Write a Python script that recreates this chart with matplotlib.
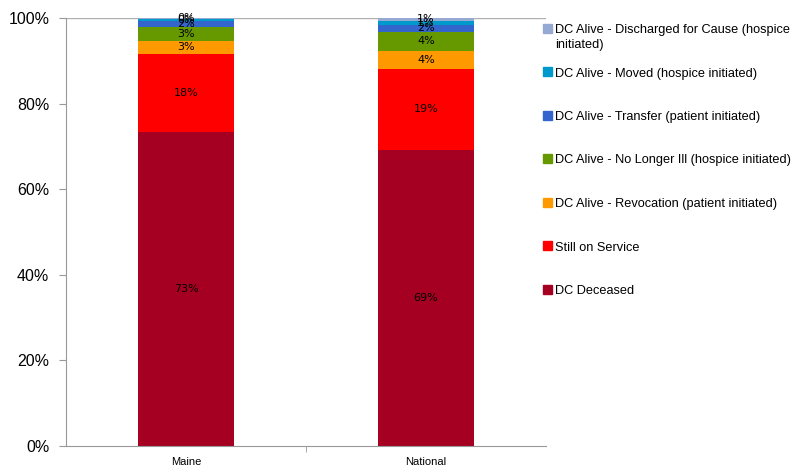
import matplotlib.pyplot as plt
from matplotlib.patches import Rectangle
import numpy as np

plt.rcParams["font.family"] = ["Liberation Sans", "DejaVu Sans"]

categories = ["Maine", "National"]
series_names = [
    "DC Deceased",
    "Still on Service",
    "DC Alive - Revocation (patient initiated)",
    "DC Alive - No Longer Ill (hospice initiated)",
    "DC Alive - Transfer (patient initiated)",
    "DC Alive - Moved (hospice initiated)",
    "DC Alive - Discharged for Cause (hospice\ninitiated)",
]
maine = [73.3, 18.4, 2.9, 3.2, 1.6, 0.4, 0.2]
national = [69.2, 18.9, 4.3, 4.4, 1.5, 1.1, 0.6]
colors = ["#A50021", "#FF0000", "#FF9900", "#669900", "#3366CC", "#0099CC", "#95A9D3"]

W, H = 799, 470
fig = plt.figure(figsize=(W / 100, H / 100), dpi=100)
ax = fig.add_axes([66 / W, 24 / H, 480 / W, 428 / H])

data = np.array([maine, national])
x = np.arange(len(categories))
bottom = np.zeros(len(categories))
for i, name in enumerate(series_names):
    vals = data[:, i]
    ax.bar(x, vals, 0.4, bottom=bottom, color=colors[i], label=name, zorder=2)
    for xi, v, b in zip(x, vals, bottom):
        ax.text(xi, b + v / 2, f"{v:.0f}%", ha="center", va="center",
                fontsize=8, family=["DejaVu Sans"], color="black", zorder=3)
    bottom += vals

ax.set_xlim(-0.5, 1.5)
ax.set_ylim(0, 100)
ax.set_yticks(range(0, 101, 20))
ax.set_yticklabels([f"{v}%" for v in range(0, 101, 20)], fontsize=11.5)
ax.set_xticks(x)
ax.set_xticklabels(categories, fontsize=8)
ax.set_xticks([0.5], minor=True)
ax.tick_params(axis="x", which="major", length=0, pad=8)
ax.tick_params(axis="x", which="minor", length=4, color="#999999")
ax.tick_params(axis="y", length=5, color="#999999", pad=7)
ax.axhline(100, color="#b0b0b0", lw=1, zorder=1)
for side in ["top", "right"]:
    ax.spines[side].set_visible(False)
for side in ["left", "bottom"]:
    ax.spines[side].set_color("#999999")

# legend laid out by hand (top entry first), Excel-style spacing
for k, i in enumerate(range(len(series_names) - 1, -1, -1)):
    yc = 28 + k * 43.5
    fig.add_artist(Rectangle((543 / W, 1 - (yc + 4.5) / H), 9 / W, 9 / H,
                             transform=fig.transFigure, color=colors[i]))
    fig.text(555 / W, 1 - (yc - 4) / H, series_names[i], ha="left", va="top",
             fontsize=9.2, linespacing=1.3)

fig.savefig("out.png", dpi=100)
